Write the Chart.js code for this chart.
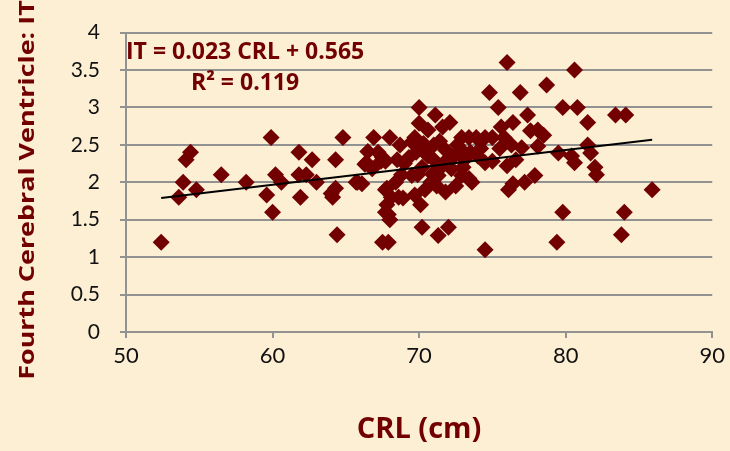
<!DOCTYPE html>
<html>
<head>
<meta charset="utf-8">
<script src="https://cdn.jsdelivr.net/npm/chart.js@4.4.0/dist/chart.umd.min.js"></script>
<style>
  html, body { margin: 0; padding: 0; background: #fdefd4; }
  #wrap { width: 730px; height: 451px; }
</style>
</head>
<body>
<div id="wrap"><canvas id="myChart"></canvas></div>
<script>
// CRL (cm) of each case
const crlValues = [
  52.4, 53.6, 53.9, 54.1, 54.4, 54.8, 56.5, 58.2, 59.9, 59.6,
  60.0, 60.2, 60.6, 61.8, 62.7, 61.8, 62.3, 63.0, 61.9, 64.0,
  64.3, 64.8, 64.4, 67.5, 67.9, 68.0, 67.7, 67.8, 68.1, 68.6,
  67.7, 64.3, 64.1, 65.7, 66.1, 66.3, 66.8, 67.4, 67.7, 70.0,
  70.0, 71.1, 66.9, 68.0, 66.5, 66.4, 67.5, 68.7, 69.5, 70.3,
  71.6, 72.1, 73.4, 73.9, 74.5, 72.9, 71.8, 69.3, 70.6, 74.5,
  65.8, 67.8, 68.4, 68.9, 67.9, 69.7, 70.1, 69.5, 70.9, 71.8,
  71.3, 72.2, 72.9, 73.6, 70.2, 71.3, 72.0, 74.5, 76.0, 80.6,
  74.8, 76.9, 78.7, 75.4, 77.4, 79.8, 80.8, 81.5, 83.4, 84.1,
  76.4, 78.1, 78.5, 77.6, 75.6, 75.0, 72.9, 76.3, 77.0, 78.1,
  79.5, 80.4, 81.5, 81.7, 80.6, 82.0, 82.1, 75.0, 76.0, 73.4,
  77.9, 77.2, 76.4, 76.1, 79.8, 84.0, 83.8, 79.4, 85.9,
  69.8, 70.2, 70.5, 71.0, 71.4, 71.9, 72.4, 72.6, 73.1, 73.5,
  74.0, 74.2, 69.9, 70.8, 71.5, 72.5, 73.0, 75.5, 76.6, 75.8,
  69.0, 68.8, 70.4, 71.2, 69.7, 70.6, 71.0, 68.5, 67.2
];
// Fourth cerebral ventricle IT for each case
const itValues = [
  1.20, 1.80, 2.00, 2.30, 2.40, 1.90, 2.10, 2.00, 2.60, 1.83,
  1.60, 2.10, 2.00, 2.40, 2.30, 2.10, 2.10, 2.00, 1.80, 1.85,
  2.30, 2.60, 1.30, 1.20, 1.20, 1.50, 1.60, 1.70, 1.80, 1.80,
  1.90, 1.92, 1.80, 2.00, 1.98, 2.24, 2.18, 2.28, 2.28, 3.00,
  2.79, 2.90, 2.60, 2.60, 2.41, 2.26, 2.33, 2.50, 2.54, 2.52,
  2.74, 2.80, 2.60, 2.60, 2.60, 2.43, 2.43, 2.33, 2.35, 2.26,
  2.00, 1.92, 2.00, 1.79, 1.57, 1.83, 1.70, 2.09, 2.11, 1.87,
  2.09, 2.18, 2.09, 2.00, 1.40, 1.29, 1.40, 1.10, 3.60, 3.50,
  3.20, 3.20, 3.30, 3.00, 2.90, 3.00, 3.00, 2.80, 2.90, 2.90,
  2.80, 2.70, 2.63, 2.69, 2.74, 2.60, 2.60, 2.50, 2.46, 2.48,
  2.39, 2.35, 2.50, 2.39, 2.26, 2.20, 2.10, 2.28, 2.22, 2.05,
  2.09, 2.00, 1.98, 1.90, 1.60, 1.60, 1.30, 1.20, 1.90,
  2.40, 2.20, 2.45, 2.30, 2.55, 2.30, 2.35, 2.50, 2.30, 2.40,
  2.35, 2.45, 2.10, 2.00, 2.20, 1.95, 2.20, 2.45, 2.30, 2.60,
  2.25, 2.10, 1.90, 1.95, 2.60, 2.70, 2.50, 2.30, 2.40
];
// trendline end points
const trendX = [52.4, 85.9];
const trendY = [1.79, 2.57];

const equationText = "IT = 0.023 CRL + 0.565";
const r2Text = "R² = 0.119";
const yTitle = "Fourth Cerebral Ventricle: IT";
const xTitle = "CRL (cm)";

const darkRed = "#720000";
const gridGray = "#929292";
const fontName = "Lato, 'DejaVu Sans', sans-serif";
const titleFont = "'Open Sans', Lato, sans-serif";

const points = crlValues.map((x, i) => ({ x: x, y: itValues[i] }));
const trendPoints = trendX.map((x, i) => ({ x: x, y: trendY[i] }));

// fondo crema, título vertical y texto de la ecuación
const paperPlugin = {
  id: "paper",
  beforeDraw(chart) {
    const ctx = chart.ctx;
    ctx.save();
    ctx.fillStyle = "#fdefd4";
    ctx.fillRect(0, 0, chart.width, chart.height);
    ctx.restore();
  },
  afterDraw(chart) {
    const ctx = chart.ctx;
    const area = chart.chartArea;
    ctx.save();
    ctx.fillStyle = darkRed;
    ctx.font = "bold 23px " + titleFont;
    ctx.textBaseline = "middle";
    ctx.textAlign = "left";
    ctx.fillText(equationText, area.left, area.top + 20);
    ctx.fillText(r2Text, area.left + 65, area.top + 51);

    // título del eje y, girado y algo estirado como en la imagen
    ctx.translate(28, 190);
    ctx.rotate(-Math.PI / 2);
    ctx.scale(1.28, 1);
    ctx.textAlign = "center";
    ctx.font = "bold 21px " + titleFont;
    ctx.fillText(yTitle, 0, 0);
    ctx.restore();
  }
};

new Chart(document.getElementById("myChart").getContext("2d"), {
  type: "scatter",
  data: {
    datasets: [
      {
        label: "Trend",
        data: trendPoints,
        type: "line",
        borderColor: "#000000",
        borderWidth: 2,
        pointRadius: 0,
        fill: false,
        order: 0
      },
      {
        label: "IT",
        data: points,
        pointStyle: "rectRot",
        pointRadius: 8.5,
        pointHoverRadius: 8.5,
        backgroundColor: darkRed,
        borderColor: darkRed,
        borderWidth: 0,
        order: 1
      }
    ]
  },
  plugins: [paperPlugin],
  options: {
    responsive: true,
    maintainAspectRatio: false,
    animation: false,
    layout: { padding: { top: 22, right: 15, left: 0, bottom: 0 } },
    plugins: {
      legend: { display: false },
      tooltip: { enabled: false }
    },
    scales: {
      x: {
        type: "linear",
        min: 50,
        max: 90,
        afterFit(scale) { scale.height = 119; },
        ticks: {
          stepSize: 10,
          color: "#111111",
          padding: 5,
          font: { family: fontName, size: 22 }
        },
        grid: {
          drawOnChartArea: false,
          drawTicks: true,
          tickLength: 6,
          color: gridGray,
          lineWidth: 2
        },
        border: { color: gridGray, width: 2 },
        title: {
          display: true,
          text: xTitle,
          color: darkRed,
          padding: { top: 35 },
          font: { family: titleFont, size: 29, weight: "bold" }
        }
      },
      y: {
        min: 0,
        max: 4,
        afterFit(scale) { scale.width = 126; },
        ticks: {
          stepSize: 0.5,
          color: "#111111",
          padding: 20,
          font: { family: fontName, size: 21 },
          callback: (value) => String(value)
        },
        grid: {
          drawTicks: true,
          tickLength: 6,
          color: gridGray,
          lineWidth: 2
        },
        border: { color: gridGray, width: 2 }
      }
    }
  }
});
</script>
</body>
</html>
